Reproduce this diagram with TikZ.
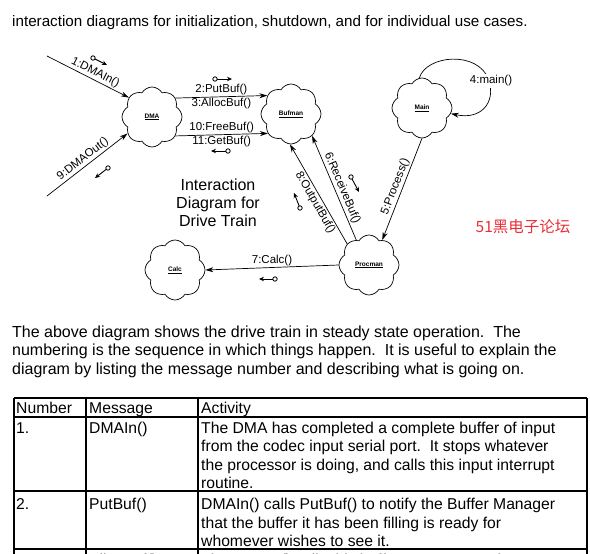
\documentclass[tikz,border=0pt]{standalone}
\usepackage{fontspec}
\setmainfont{Liberation Sans}
\newfontfamily\cjkfont{Noto Sans CJK SC}
\usetikzlibrary{shapes.symbols,arrows.meta}
\definecolor{wmred}{RGB}{235,45,55}
\begin{document}
\begin{tikzpicture}[x=1pt,y=-1pt,
  cloudbox/.style={cloud, draw, line width=0.7pt, cloud puffs=8, cloud puff arc=120,
    minimum width=60pt, minimum height=60pt, inner sep=0pt,
    font=\fontsize{6.5}{7}\selectfont\bfseries},
  msg/.style={draw, line width=0.7pt, -{Stealth[length=8pt,width=5pt]}},
  lbl/.style={font=\fontsize{11.5}{13}\selectfont, inner sep=1.5pt},
  icon/.style={line width=0.9pt, -{Stealth[length=5pt,width=4.5pt]}},
  iconring/.style={draw, fill=white, line width=0.8pt},
  body/.style={font=\fontsize{15.7}{18}\selectfont, inner sep=0pt, anchor=base west},
  para/.style={font=\fontsize{16}{18}\selectfont, inner sep=0pt, anchor=base west},
  grid/.style={line width=1.2pt}
]
\useasboundingbox (0,0) rectangle (590,554);
\clip (0,0) rectangle (590,554);

% header
\node[para, font=\fontsize{15.2}{17}\selectfont] (hdr) at (12,27) {interaction diagrams for initialization, shutdown, and for individual use cases.};

% clouds
\node[cloudbox] (dma) at (152,117) {\underline{DMA}};
\node[cloudbox] (bufman) at (291,114) {\underline{Bufman}};
\node[cloudbox] (main) at (422,108) {\underline{Main}};
\node[cloudbox] (procman) at (369,265) {\underline{Procman}};
\node[cloudbox] (calc) at (175,270) {\underline{Calc}};

% free ends
\coordinate (in1) at (47,56);
\coordinate (out9) at (47,196);

% messages
\draw[msg] (in1) -- (dma.140) node[pos=0.55, sloped, above, lbl] {1:DMAIn()};
\draw[msg] (out9) -- (dma.214) node[pos=0.5, sloped, above, lbl] {9:DMAOut()};
\draw[msg] (dma.39) -- (bufman.142) node[midway, above, lbl] {2:PutBuf()} node[midway, below, lbl] {3:AllocBuf()};
\draw[msg] (dma.321) -- (bufman.220) node[midway, above, lbl] {10:FreeBuf()} node[midway, below, lbl] {11:GetBuf()};
\draw[msg] (main.95) .. controls (426,55) and (478,50) .. (489,80) .. controls (496,104) and (480,120) .. (main.-11);
\node[lbl, fill=white] (m4) at (491,81) {4:main()};
\draw[msg] (main.270) -- (procman.62) node[midway, sloped, above, lbl] {5:Process()};
\draw[msg] (procman.117) -- (bufman.314) node[pos=0.47, sloped, above, lbl] {6:ReceiveBuf()};
\draw[msg] (procman.136) -- (bufman.268) node[pos=0.45, sloped, below, lbl] {8:OutputBuf()};
\draw[msg] (procman.180) -- (calc.0) node[midway, above, lbl] {7:Calc()};

% direction icons
\foreach \a/\b in {{93,58}/{107,65}, {215,79}/{232,79}, {228,151}/{211,151}, {108,168}/{95,178},
                   {351,177}/{359,192}, {300,208}/{294,193}, {275,279}/{259,279}} {
  \draw[icon] (\a) -- (\b);
  \draw[iconring] (\a) circle (2.2pt);
}

% title
\node[align=center, font=\fontsize{16}{18}\selectfont] (title) at (218,203) {Interaction\\Diagram for\\Drive Train};

% watermark
\node[font=\cjkfont\fontsize{15.5}{17}\selectfont, text=wmred] (wm) at (523,227) {51黑电子论坛};

% paragraph
\node[para] (p1) at (12,337) {The above diagram shows the drive train in steady state operation.\ \ The};
\node[para] (p2) at (12,355.5) {numbering is the sequence in which things happen.\ \ It is useful to explain the};
\node[para] (p3) at (12,374) {diagram by listing the message number and describing what is going on.};

% table grid
\draw[grid] (14,398) -- (587,398);
\draw[grid] (14,417) -- (587,417);
\draw[grid] (14,491) -- (587,491);
\draw[grid] (14,549) -- (587,549);
\draw[grid] (14,398) -- (14,556);
\draw[grid] (86,398) -- (86,556);
\draw[grid] (198,398) -- (198,556);
\draw[grid] (587,398) -- (587,556);

% table text
\node[body] (h1) at (16,413) {Number};
\node[body] (h2) at (89,413) {Message};
\node[body] (h3) at (201,413) {Activity};
\node[body] (r1a) at (16,433) {1.};
\node[body] (r1b) at (89,433) {DMAIn()};
\node[body] (r1c1) at (201,433) {The DMA has completed a complete buffer of input};
\node[body] (r1c2) at (201,451.5) {from the codec input serial port.\ \ It stops whatever};
\node[body] (r1c3) at (201,470) {the processor is doing, and calls this input interrupt};
\node[body] (r1c4) at (201,488.5) {routine.};
\node[body] (r2a) at (16,509.5) {2.};
\node[body] (r2b) at (89,509.5) {PutBuf()};
\node[body] (r2c1) at (201,509.5) {DMAIn() calls PutBuf() to notify the Buffer Manager};
\node[body] (r2c2) at (201,528) {that the buffer it has been filling is ready for};
\node[body] (r2c3) at (201,546.5) {whomever wishes to see it.};
\node[body] (r3a) at (16,565) {3.};
\node[body] (r3b) at (89,565) {AllocBuf()};
\node[body] (r3c1) at (201,565) {The DMAIn() calls this buffer manager routine to};
\end{tikzpicture}
\end{document}
